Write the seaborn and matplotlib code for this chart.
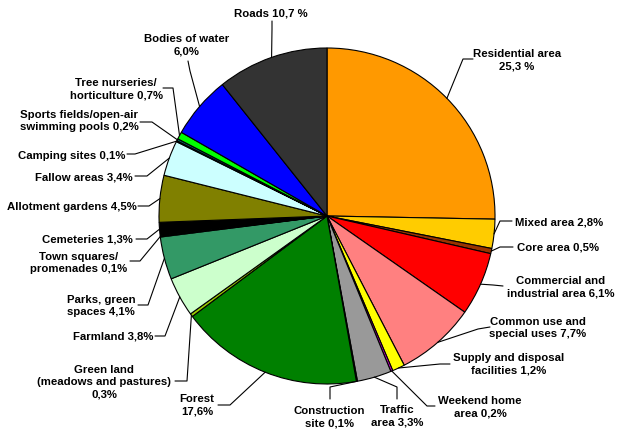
import numpy as np
import matplotlib
matplotlib.use("Agg")
import matplotlib.pyplot as plt
import seaborn as sns

# land use shares (%), clockwise from the top
names = ["Residential area", "Mixed area", "Core area", "Commercial and\nindustrial area",
         "Common use and\nspecial uses", "Supply and disposal\nfacilities", "Weekend home\narea",
         "Traffic\narea", "Construction\nsite", "Forest\n", "Green land\n(meadows and pastures)\n",
         "Farmland", "Parks, green\nspaces", "Town squares/\npromenades", "Cemeteries",
         "Allotment gardens", "Fallow areas", "Camping sites", "Sports fields/open-air\nswimming pools",
         "Tree nurseries/\nhorticulture", "Bodies of water\n", "Roads"]
values = [25.3, 2.8, 0.5, 6.1, 7.7, 1.2, 0.2, 3.3, 0.1, 17.6, 0.3,
          3.8, 4.1, 0.1, 1.3, 4.5, 3.4, 0.1, 0.2, 0.7, 6.0, 10.7]
pct_text = ["25,3 %", "2,8%", "0,5%", "6,1%", "7,7%", "1,2%", "0,2%", "3,3%", "0,1%", "17,6%", "0,3%",
            "3,8%", "4,1%", "0,1%", "1,3%", "4,5%", "3,4%", "0,1%", "0,2%", "0,7%", "6,0%", "10,7 %"]
colors = ["#FF9900", "#FFCC00", "#993300", "#FF0000", "#FF8080", "#FFFF00", "#CC00CC",
          "#999999", "#666699", "#008000", "#99CC00", "#CCFFCC", "#339966", "#00CC99",
          "#000000", "#808000", "#CCFFFF", "#33CCCC", "#006666", "#00FF00", "#0000FF", "#333333"]

# label layout in pixels (y down): text x, text y, ha, elbow, line end
layout = [
    (517, 60, "center", (463, 60), (473, 60)),
    (515, 223, "left", (500, 222), (512, 222)),
    (517, 248, "left", (500, 248), (513, 248)),
    (561, 287, "center", (493, 286), (503, 287)),
    (538, 328, "center", (478, 330), (490, 328)),
    (509, 364, "center", (440, 365), (450, 365)),
    (480, 407, "center", (427, 407), (435, 407)),
    (397, 416, "center", (397, 388), (397, 400)),
    (329, 417, "center", (330, 388), (330, 400)),
    (197, 405, "center", (230, 406), (218, 406)),
    (104, 382, "center", (187, 382), (175, 382)),
    (153, 337, "right", (165, 337), (155, 337)),
    (101, 306, "center", (148, 306), (138, 306)),
    (79, 263, "center", (140, 262), (130, 262)),
    (133, 240, "right", (147, 240), (136, 240)),
    (137, 207, "right", (149, 207), (138, 207)),
    (133, 177, "right", (147, 177), (135, 177)),
    (125, 156, "right", (135, 155), (127, 155)),
    (79, 121, "center", (152, 123), (140, 123)),
    (116, 89, "center", (173, 89), (163, 89)),
    (187, 45, "center", (190, 72), (188, 62)),
    (271, 13, "center", (272, 30), (272, 22)),
]

sns.set_style("white")
plt.rcParams["font.family"] = ["Liberation Sans", "DejaVu Sans"]

W, H = 620, 435
cx, cy, r = 327, 217, 168

fig = plt.figure(figsize=(6.2, 4.35), dpi=100)
ax = fig.add_axes([0, 0, 1, 1])
ax.pie(values, colors=colors, startangle=90, counterclock=False, radius=r,
       center=(cx, H - cy), wedgeprops=dict(edgecolor="black", linewidth=0.8))
ax.set_xlim(0, W)
ax.set_ylim(0, H)
ax.set_aspect("equal")
ax.axis("off")

frac = np.cumsum(values) / np.sum(values)
mid = frac - np.array(values) / np.sum(values) / 2

for i, (tx, ty, ha, elbow, end) in enumerate(layout):
    th = 2 * np.pi * mid[i]
    ex, ey = cx + r * np.sin(th), cy - r * np.cos(th)
    xs = [ex, elbow[0], end[0]]
    ys = [H - ey, H - elbow[1], H - end[1]]
    ax.plot(xs, ys, color="black", linewidth=0.8)
    nm = names[i]
    if nm.endswith("\n"):
        txt = nm + pct_text[i]
    else:
        txt = nm + " " + pct_text[i]
    if i == 0:
        txt = nm + "\n" + pct_text[i]
    ax.text(tx, H - ty, txt, ha=ha, va="center", multialignment="center",
            fontsize=8.2, fontweight="bold", linespacing=1.3, color="black")

fig.savefig("out.png", dpi=100, facecolor="white")
